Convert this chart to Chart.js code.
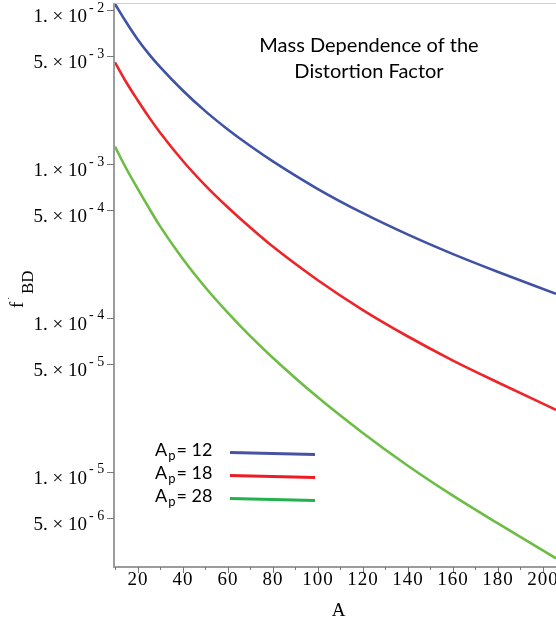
<!DOCTYPE html>
<html>
<head>
<meta charset="utf-8">
<script src="https://cdn.jsdelivr.net/npm/chart.js@4/dist/chart.umd.min.js"></script>
<style>
html, body { margin: 0; padding: 0; background: #fff; }
#wrap { width: 556px; height: 623px; }
</style>
</head>
<body>
<div id="wrap"><canvas id="chart" width="556" height="623"></canvas></div>
<script>
// Mass number of the target nucleus (x axis)
const massNumbers = [10, 15, 20, 25, 30, 40, 50, 60, 70, 80, 100, 120, 140, 160, 180, 206];

// Distortion factor f'_BD for each projectile mass
const fBD12 = [1.094e-2, 8.32e-3, 6.46e-3, 5.19e-3, 4.27e-3, 3.01e-3, 2.21e-3, 1.68e-3, 1.31e-3, 1.042e-3, 6.89e-4, 4.80e-4, 3.48e-4, 2.60e-4, 1.99e-4, 1.43e-4];
const fBD18 = [4.57e-3, 3.39e-3, 2.60e-3, 2.02e-3, 1.60e-3, 1.052e-3, 7.28e-4, 5.24e-4, 3.87e-4, 2.91e-4, 1.76e-4, 1.126e-4, 7.58e-5, 5.29e-5, 3.81e-5, 2.52e-5];
const fBD28 = [1.294e-3, 9.33e-4, 6.92e-4, 5.19e-4, 3.94e-4, 2.43e-4, 1.585e-4, 1.084e-4, 7.62e-5, 5.52e-5, 3.05e-5, 1.79e-5, 1.096e-5, 7.00e-6, 4.62e-6, 2.73e-6];

const projectileMasses = [12, 18, 28];
const lineColors = ['#3f52a4', '#ee2428', '#6cbd45'];
const legendColors = ['#4852a3', '#ed1c24', '#22b14c'];

// axis ticks
const yTickValues = [1e-2, 5e-3, 1e-3, 5e-4, 1e-4, 5e-5, 1e-5, 5e-6];
const xTickValues = [20, 40, 60, 80, 100, 120, 140, 160, 180, 200];
const xMinorTicks = [10, 30, 50, 70, 90, 110, 130, 150, 170, 190];

const titleLines = ['Mass Dependence of the', 'Distortion Factor'];

const serif = '"Liberation Serif", "Times New Roman", serif';
const sans = 'Lato, "Open Sans", sans-serif';
const axisGray = '#9c9c9c';

function toPoints(values) {
    return massNumbers.map((a, i) => ({ x: a, y: values[i] }));
}

const allSeries = [fBD12, fBD18, fBD28];

const datasets = allSeries.map((series, i) => ({
    label: 'Ap= ' + projectileMasses[i],
    data: toPoints(series),
    borderColor: lineColors[i],
    borderWidth: 2.6,
    pointRadius: 0,
    cubicInterpolationMode: 'monotone',
    fill: false
}));

// draws axes, tick labels, titles and the in-plot legend
const decorations = {
    id: 'decorations',
    afterDatasetsDraw(chart) {
        const ctx = chart.ctx;
        const area = chart.chartArea;
        const xs = chart.scales.x;
        const ys = chart.scales.y;
        ctx.save();

        // top frame line
        ctx.strokeStyle = '#d0d0d0';
        ctx.lineWidth = 1;
        ctx.beginPath();
        ctx.moveTo(area.left, area.top + 0.5);
        ctx.lineTo(area.right, area.top + 0.5);
        ctx.stroke();

        // axis lines
        ctx.strokeStyle = axisGray;
        ctx.lineWidth = 2;
        ctx.beginPath();
        ctx.moveTo(area.left - 1, area.top);
        ctx.lineTo(area.left - 1, area.bottom);
        ctx.moveTo(area.left - 2, area.bottom);
        ctx.lineTo(area.right, area.bottom);
        ctx.stroke();

        // x ticks
        ctx.lineWidth = 1;
        ctx.strokeStyle = '#777';
        ctx.beginPath();
        xTickValues.forEach(v => {
            const px = Math.round(xs.getPixelForValue(v)) + 0.5;
            ctx.moveTo(px, area.bottom);
            ctx.lineTo(px, area.bottom + 6);
        });
        xMinorTicks.forEach(v => {
            const px = Math.round(xs.getPixelForValue(v)) + 0.5;
            ctx.moveTo(px, area.bottom);
            ctx.lineTo(px, area.bottom + 3);
        });
        ctx.stroke();

        ctx.fillStyle = '#000';
        ctx.font = '19px ' + serif;
        ctx.letterSpacing = '1px';
        ctx.textAlign = 'center';
        ctx.textBaseline = 'middle';
        xTickValues.forEach(v => {
            ctx.fillText(String(v), xs.getPixelForValue(v) + 0.5, area.bottom + 13);
        });
        ctx.letterSpacing = '0px';
        ctx.fillText('A', (area.left + area.right) / 2 + 3, area.bottom + 44);

        // y ticks and labels (Maple style: "1. × 10" with raised exponent)
        ctx.strokeStyle = '#777';
        ctx.beginPath();
        yTickValues.forEach(v => {
            const py = Math.round(ys.getPixelForValue(v)) + 0.5;
            ctx.moveTo(area.left - 8, py);
            ctx.lineTo(area.left - 1, py);
        });
        ctx.stroke();

        yTickValues.forEach(v => {
            const py = ys.getPixelForValue(v);
            const exp = Math.floor(Math.log10(v) + 1e-9);
            const mant = Math.round(v / Math.pow(10, exp));
            ctx.font = '19px ' + serif;
            ctx.textAlign = 'right';
            ctx.textBaseline = 'middle';
            ctx.fillText(mant + '. \u00d7 10', 87, py + 7);
            ctx.font = '14px ' + serif;
            ctx.textAlign = 'left';
            ctx.fillText('- ' + Math.abs(exp), 89, py - 2);
        });

        // y axis title f'_BD
        ctx.save();
        ctx.translate(23, 308);
        ctx.rotate(-Math.PI / 2);
        ctx.textAlign = 'left';
        ctx.textBaseline = 'alphabetic';
        ctx.font = '19px ' + serif;
        ctx.fillText('f', 0, 0);
        ctx.font = '10px ' + serif;
        ctx.fillText('\u02d9', 8, -8);
        ctx.font = '17px ' + serif;
        ctx.fillText('BD', 14, 10);
        ctx.restore();

        // chart title
        ctx.font = '20px ' + sans;
        ctx.textAlign = 'center';
        ctx.textBaseline = 'middle';
        titleLines.forEach((line, i) => {
            ctx.fillText(line, 369, 46 + i * 26);
        });

        // legend: label text, then a sample line
        projectileMasses.forEach((m, i) => {
            const ty = 450 + i * 23;
            ctx.textAlign = 'left';
            ctx.textBaseline = 'middle';
            ctx.font = '18px ' + sans;
            ctx.fillStyle = '#000';
            ctx.fillText('A', 155, ty);
            const aw = ctx.measureText('A').width;
            ctx.font = '13px ' + sans;
            ctx.fillText('p', 155 + aw + 1, ty + 6);
            const pw = ctx.measureText('p').width;
            ctx.font = '18px ' + sans;
            ctx.fillText('= ' + m, 155 + aw + pw + 2, ty);

            ctx.strokeStyle = legendColors[i];
            ctx.lineWidth = 3;
            ctx.beginPath();
            ctx.moveTo(230, ty + 2.5);
            ctx.lineTo(315, ty + 4.5);
            ctx.stroke();
        });

        ctx.restore();
    }
};

new Chart(document.getElementById('chart'), {
    type: 'line',
    data: { datasets: datasets },
    options: {
        responsive: false,
        animation: false,
        layout: { padding: { left: 115, top: 3, right: 0, bottom: 56 } },
        plugins: {
            legend: { display: false },
            tooltip: { enabled: false },
            title: { display: false }
        },
        scales: {
            x: { type: 'linear', display: false, min: 10, max: 206 },
            y: { type: 'logarithmic', display: false, min: 2.40e-6, max: 1.11e-2 }
        }
    },
    plugins: [decorations]
});
</script>
</body>
</html>
